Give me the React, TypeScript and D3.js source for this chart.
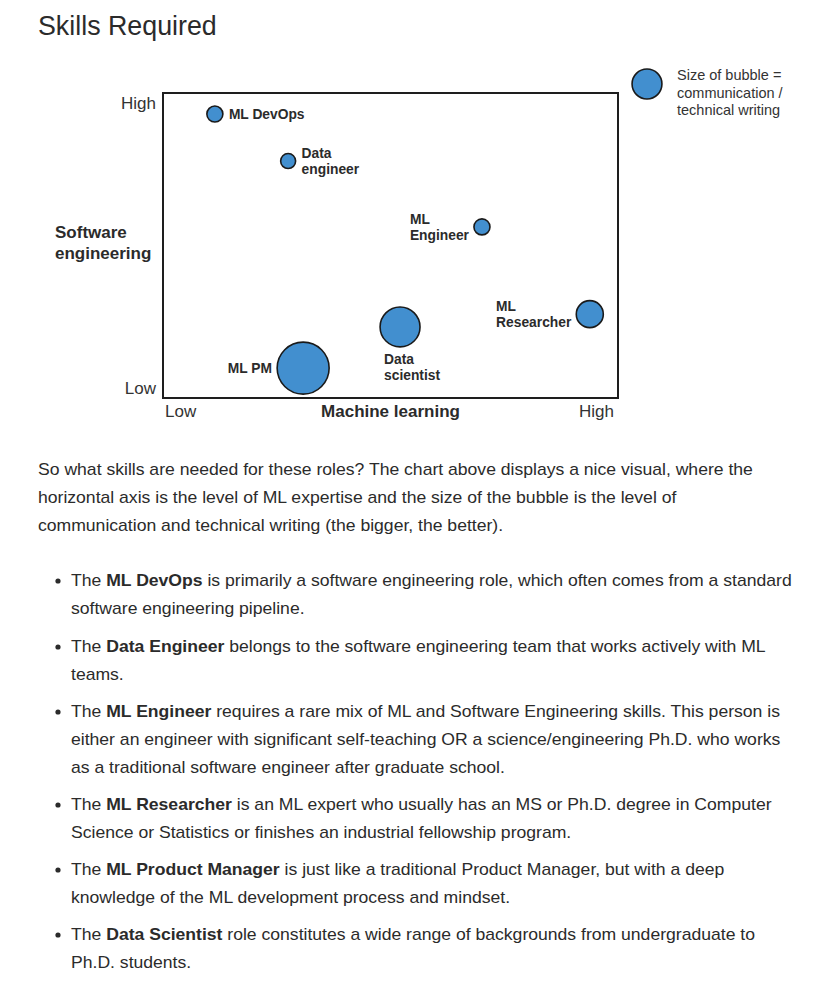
import React from "react";
import * as d3 from "d3";

// ---- chart data ----
const roles = ["ML DevOps", "Data engineer", "ML Engineer", "ML Researcher", "Data scientist", "ML PM"];
const mlSkill = [1.14, 2.75, 7.01, 9.38, 5.21, 3.08];
const sweSkill = [9.31, 7.77, 5.61, 2.75, 2.33, 0.98];
const commSkill = [0.95, 0.83, 0.95, 2.7, 5.9, 10];
const roleLabelLines = [["ML DevOps"], ["Data", "engineer"], ["ML", "Engineer"], ["ML", "Researcher"], ["Data", "scientist"], ["ML PM"]];
const labelSide = ["right", "right", "left", "left", "below", "left"];
const axisLevels = ["Low", "High"];
const xAxisTitle = "Machine learning";
const yAxisTitle = ["Software", "engineering"];
const legendComm = 3.3;
const legendLines = ["Size of bubble =", "communication /", "technical writing"];

// ---- page text ----
const title = "Skills Required";
const introLines = [
  "So what skills are needed for these roles? The chart above displays a nice visual, where the",
  "horizontal axis is the level of ML expertise and the size of the bubble is the level of",
  "communication and technical writing (the bigger, the better).",
];
const bulletBold = ["ML DevOps", "Data Engineer", "ML Engineer", "ML Researcher", "ML Product Manager", "Data Scientist"];
const bulletLines = [
  [" is primarily a software engineering role, which often comes from a standard", "software engineering pipeline."],
  [" belongs to the software engineering team that works actively with ML", "teams."],
  [" requires a rare mix of ML and Software Engineering skills. This person is", "either an engineer with significant self-teaching OR a science/engineering Ph.D. who works", "as a traditional software engineer after graduate school."],
  [" is an ML expert who usually has an MS or Ph.D. degree in Computer", "Science or Statistics or finishes an industrial fellowship program."],
  [" is just like a traditional Product Manager, but with a deep", "knowledge of the ML development process and mindset."],
  [" role constitutes a wide range of backgrounds from undergraduate to", "Ph.D. students."],
];

const FONT = "'Liberation Sans', Arial, Helvetica, sans-serif";
const TEXT = "#2b2b2b";
const BUBBLE = "#428fcf";
const LABEL_SIZE = 13.8;

let measureCtx: CanvasRenderingContext2D | null = null;
function measure(text: string, font: string): number {
  if (!measureCtx) {
    const c = document.createElement("canvas");
    measureCtx = c.getContext("2d");
  }
  if (!measureCtx) return text.length * 8;
  measureCtx.font = font;
  return measureCtx.measureText(text).width;
}

export default function App() {
  const W = 836, H = 984;
  const plot = { left: 163, right: 618, top: 93, bottom: 398 };
  const x = d3.scaleLinear().domain([0, 10]).range([plot.left, plot.right]);
  const y = d3.scaleLinear().domain([0, 10]).range([plot.bottom, plot.top]);
  const r = d3.scaleSqrt().domain([0, 10]).range([0, 26]);

  const labelFor = (i: number) => {
    const cx = x(mlSkill[i]);
    const cy = y(sweSkill[i]);
    const rr = r(commSkill[i]);
    const lines = roleLabelLines[i];
    const n = lines.length;
    const side = labelSide[i];
    const lh = 16.5;
    let lx = cx;
    let base = (k: number) => cy + 5 + (k - (n - 1) / 2) * lh;
    if (side === "right") { lx = cx + rr + 6; }
    else if (side === "left") {
      const wmax = Math.max(...lines.map((t) => measure(t, `bold ${LABEL_SIZE}px ${FONT}`)));
      lx = cx - rr - 5 - wmax;
    }
    else { lx = cx - 16; base = (k: number) => cy + rr + 17 + k * 16; }
    return lines.map((t, k) => (
      <text key={k} x={lx} y={base(k)} fontSize={LABEL_SIZE} fontWeight="bold" fill={TEXT}>{t}</text>
    ));
  };

  const bulletStart = [586, 652, 717, 810, 875, 940];
  const stretch = 1.1;

  return (
    <svg width={W} height={H} style={{ position: "absolute", left: 0, top: 0, background: "#fff" }} fontFamily={FONT}>
      <rect x={0} y={0} width={W} height={H} fill="#fff" />
      <text x={38} y={35} fontSize={26.8} fill={TEXT}>{title}</text>

      {/* plot frame */}
      <rect x={plot.left} y={plot.top} width={plot.right - plot.left} height={plot.bottom - plot.top}
        fill="none" stroke="#1e1e1e" strokeWidth={2} />

      {/* axis level labels */}
      <text x={plot.left - 7} y={y(10) + 16} textAnchor="end" fontSize={17} fill="#333">{axisLevels[1]}</text>
      <text x={plot.left - 7} y={y(0) - 4} textAnchor="end" fontSize={17} fill="#333">{axisLevels[0]}</text>
      <text x={x(0) + 2} y={plot.bottom + 19} textAnchor="start" fontSize={17} fill="#333">{axisLevels[0]}</text>
      <text x={x(10) - 4} y={plot.bottom + 19} textAnchor="end" fontSize={17} fill="#333">{axisLevels[1]}</text>
      <text x={x(5)} y={plot.bottom + 19} textAnchor="middle" fontSize={17} fontWeight="bold" fill={TEXT}>{xAxisTitle}</text>
      {yAxisTitle.map((t, k) => (
        <text key={k} x={55} y={238 + k * 21} fontSize={17} fontWeight="bold" fill={TEXT}>{t}</text>
      ))}

      {/* bubbles */}
      {roles.map((role, i) => (
        <circle key={role} cx={x(mlSkill[i])} cy={y(sweSkill[i])} r={r(commSkill[i])}
          fill={BUBBLE} stroke="#1a1a1a" strokeWidth={1.6} />
      ))}
      {roles.map((role, i) => <g key={role}>{labelFor(i)}</g>)}

      {/* legend */}
      <circle cx={647} cy={84} r={r(legendComm)} fill={BUBBLE} stroke="#1a1a1a" strokeWidth={1.6} />
      {legendLines.map((t, k) => (
        <text key={k} x={677} y={80 + k * 17.5} fontSize={14.5} fill="#333">{t}</text>
      ))}

      {/* intro paragraph */}
      <g transform={`translate(38,0) scale(${stretch},1)`}>
        {introLines.map((t, k) => (
          <text key={k} x={0} y={475 + k * 28} fontSize={16} fill={TEXT}>{t}</text>
        ))}
      </g>

      {/* bullets */}
      {bulletLines.map((lines, b) => (
        <g key={b}>
          <circle cx={58} cy={bulletStart[b] - 5} r={2.6} fill={TEXT} />
          <g transform={`translate(71,0) scale(${stretch},1)`}>
            {lines.map((t, k) => (
              <text key={k} x={0} y={bulletStart[b] + k * 28} fontSize={16} fill={TEXT}>
                {k === 0 ? (
                  <>
                    <tspan>The </tspan>
                    <tspan fontWeight="bold">{bulletBold[b]}</tspan>
                    <tspan>{t}</tspan>
                  </>
                ) : t}
              </text>
            ))}
          </g>
        </g>
      ))}
    </svg>
  );
}
